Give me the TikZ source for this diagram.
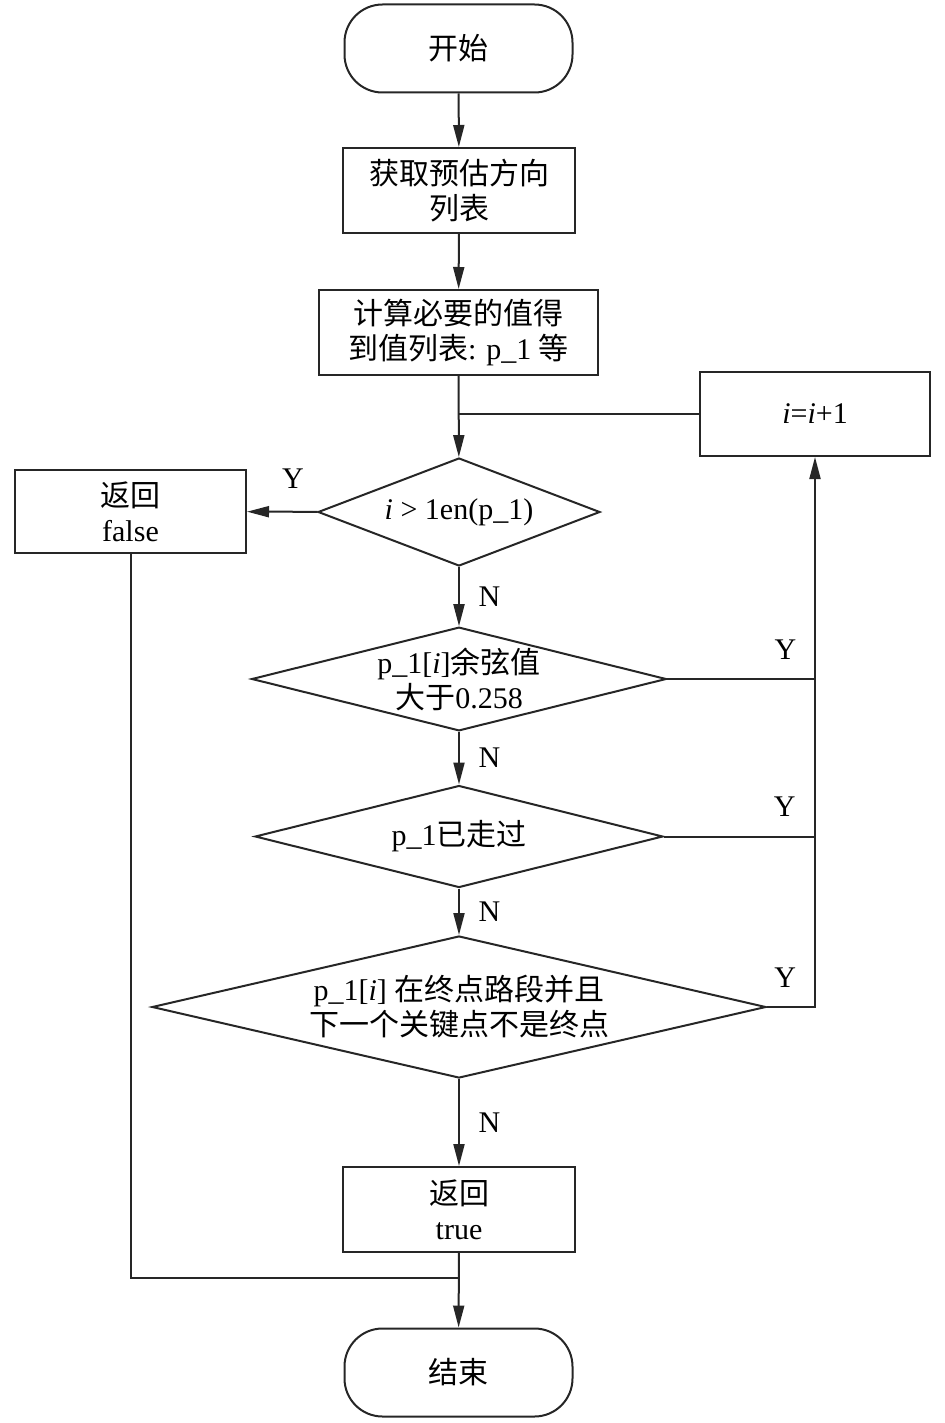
\documentclass[tikz,border=0pt]{standalone}
\usepackage{fontspec}
\setmainfont{Liberation Serif}
\newfontfamily\zh{Noto Sans CJK SC}
\usetikzlibrary{shapes.geometric,arrows.meta}

\tikzset{
  terminal/.style={rectangle, rounded corners=19pt, draw, minimum width=114pt, minimum height=44pt},
  process/.style={rectangle, draw, minimum height=42.5pt, align=center},
  decision/.style={diamond, draw, inner sep=0pt, align=center},
  flow/.style={-{Triangle[length=11pt,width=5.5pt]}},
}

\begin{document}
\begin{tikzpicture}[x=0.5pt, y=-0.5pt, line width=1pt, draw=black!85,
  font=\fontsize{15}{17.5}\selectfont]
\useasboundingbox (0,0) rectangle (945,1423);

% main column
\node[terminal] (start) at (458.5,48.5) {\zh 开始};
\node[process, minimum width=116pt] (getdirs) at (459,190.5) {\zh 获取预估方向\\\zh 列表};
\node[process, minimum width=139.5pt] (calc) at (458.5,332.5) {{\zh 计算必要的值得}\\{\zh 到值列表}: p\_1 {\zh 等}};
\node[decision, minimum width=141pt, minimum height=54pt, aspect=2.6] (outofrange) at (459,512) {\textit{i} > 1en(p\_1)};
\node[decision, minimum width=204pt, minimum height=51pt, aspect=4] (cosine) at (459,679) {p\_1[\textit{i}]{\zh 余弦值}\\{\zh 大于}0.258};
\node[decision, minimum width=204pt, minimum height=51pt, aspect=4] (visited) at (459,836.5) {p\_1{\zh 已走过}};
\node[decision, minimum width=307pt, minimum height=71pt, aspect=4.3] (lastleg) at (459,1007) {p\_1[\textit{i}] {\zh 在终点路段并且}\\{\zh 下一个关键点不是终点}};
\node[process, minimum width=116pt] (rettrue) at (459,1209.5) {\zh 返回\\true};
\node[terminal] (stop) at (458.5,1372.5) {\zh 结束};

% side boxes
\node[process, minimum width=115pt, minimum height=42pt] (incr) at (815,414) {\textit{i}=\textit{i}+1};
\node[process, minimum width=115.5pt, minimum height=41.5pt] (retfalse) at (130.5,511.5) {\zh 返回\\false};

\coordinate (loopin) at (459,414);
\coordinate (merge) at (459,1278);

% connectors
\draw[flow] (start) -- (getdirs);
\draw[flow] (getdirs) -- (calc);
\draw[flow] (calc) -- (outofrange);
\draw (incr.west) -- (loopin);
\draw[flow] (outofrange) -- (retfalse) node[pos=0.35, above=8pt] {Y};
\draw[flow] (outofrange) -- (cosine) node[midway, right=6pt] {N};
\draw[flow] (cosine) -- (visited) node[midway, right=6pt] {N};
\draw[flow] (visited) -- (lastleg) node[midway, right=6pt] {N};
\draw[flow] (lastleg) -- (rettrue) node[midway, right=6pt] {N};
\draw (cosine.east) -- (cosine.east -| incr.south) node[pos=0.8, above=6pt] {Y};
\draw (visited.east) -- (visited.east -| incr.south) node[pos=0.8, above=6pt] {Y};
\draw[flow] (lastleg.east) -| (incr.south) node[pos=0.19, above=6pt] {Y};
\draw[flow] (rettrue) -- (stop);
\draw (retfalse.south) |- (merge);
\end{tikzpicture}
\end{document}
